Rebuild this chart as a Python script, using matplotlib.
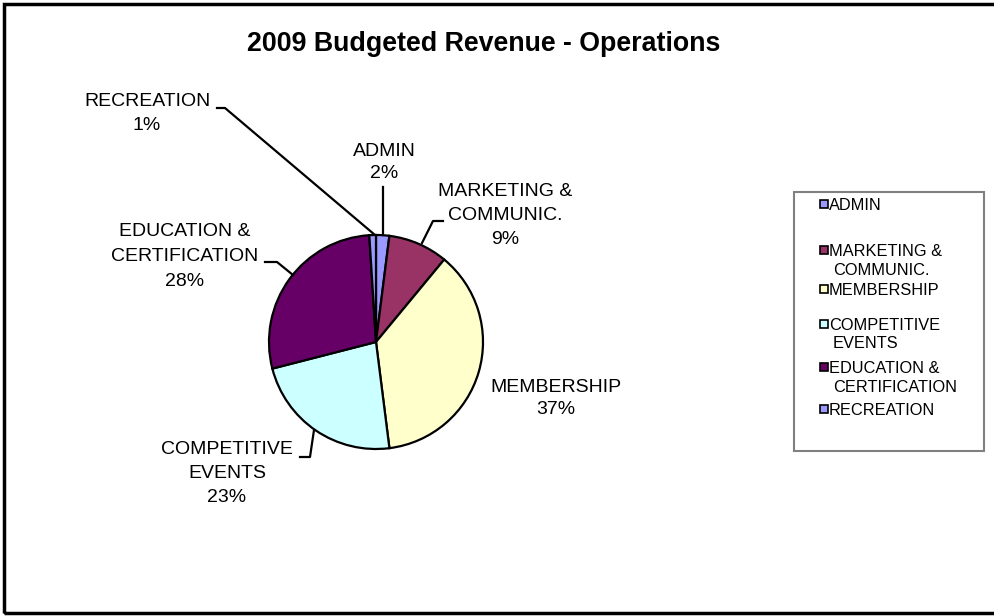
import matplotlib.pyplot as plt
from matplotlib.patches import Rectangle

plt.rcParams['font.family'] = ['Liberation Sans', 'DejaVu Sans']

categories = ["ADMIN", "MARKETING &\nCOMMUNIC.", "MEMBERSHIP",
              "COMPETITIVE\nEVENTS", "EDUCATION &\nCERTIFICATION", "RECREATION"]
shares = [2, 9, 37, 23, 28, 1]
colors = ["#9999FF", "#993366", "#FFFFCC", "#CCFFFF", "#660066", "#9999FF"]
title = "2009 Budgeted Revenue - Operations"

W, H = 995, 616


def py(y):
    # pixel row -> data y
    return H - y


fig = plt.figure(figsize=(W / 100, H / 100), dpi=100)
ax = fig.add_axes([0, 0, 1, 1])

ax.pie(shares, colors=colors, startangle=90, counterclock=False,
       center=(376, py(342)), radius=107, frame=True,
       wedgeprops=dict(edgecolor="black", linewidth=1.6))
ax.set_xlim(0, W)
ax.set_ylim(0, H)
ax.set_aspect("auto")
ax.axis("off")

# outer chart border
ax.add_patch(Rectangle((4, py(613)), W, 609, fill=False,
                       edgecolor="black", linewidth=2.5))

ax.text(484, py(44), title, ha="center", va="center",
        fontsize=19.3, fontweight="bold")

# data labels: (x, y of first line, line step, text)
lab_fs = 14
labels = [
    (384, 152, 22, "ADMIN\n2%"),
    (505, 192, 23.5, "MARKETING &\nCOMMUNIC.\n9%"),
    (556, 387, 23, "MEMBERSHIP\n37%"),
    (227, 450, 24, "COMPETITIVE\nEVENTS\n23%"),
    (185, 232, 24.5, "EDUCATION &\nCERTIFICATION\n28%"),
    (147, 101, 24.5, "RECREATION\n1%"),
]
for x, y, step, txt in labels:
    for i, line in enumerate(txt.split("\n")):
        ax.text(x, py(y + i * step), line, ha="center", va="center",
                fontsize=lab_fs)

leaders = [
    [(383, 187), (383, 235)],
    [(443, 221), (433, 221), (422, 243)],
    [(300, 457), (310, 457), (314, 430)],
    [(265, 262), (277, 262), (293, 275)],
    [(217, 108), (225, 108), (375, 235)],
]
for pts in leaders:
    ax.plot([p[0] for p in pts], [py(p[1]) for p in pts],
            color="black", linewidth=1.6)

# legend box
ax.add_patch(Rectangle((794, py(451)), 190, 259, fill=False,
                       edgecolor="#808080", linewidth=1.5))
leg_rows = [206, 252, 290.5, 325.5, 368.5, 410.5]
for name, col, y in zip(categories, colors, leg_rows):
    ax.add_patch(Rectangle((820, py(y + 2)), 8, 8, facecolor=col,
                           edgecolor="black", linewidth=1.2))
    for i, line in enumerate(name.split("\n")):
        ax.text(829 if i == 0 else 833, py(y + i * 18.5), line,
                ha="left", va="center", fontsize=11.8)

fig.savefig("out.png", dpi=100)
